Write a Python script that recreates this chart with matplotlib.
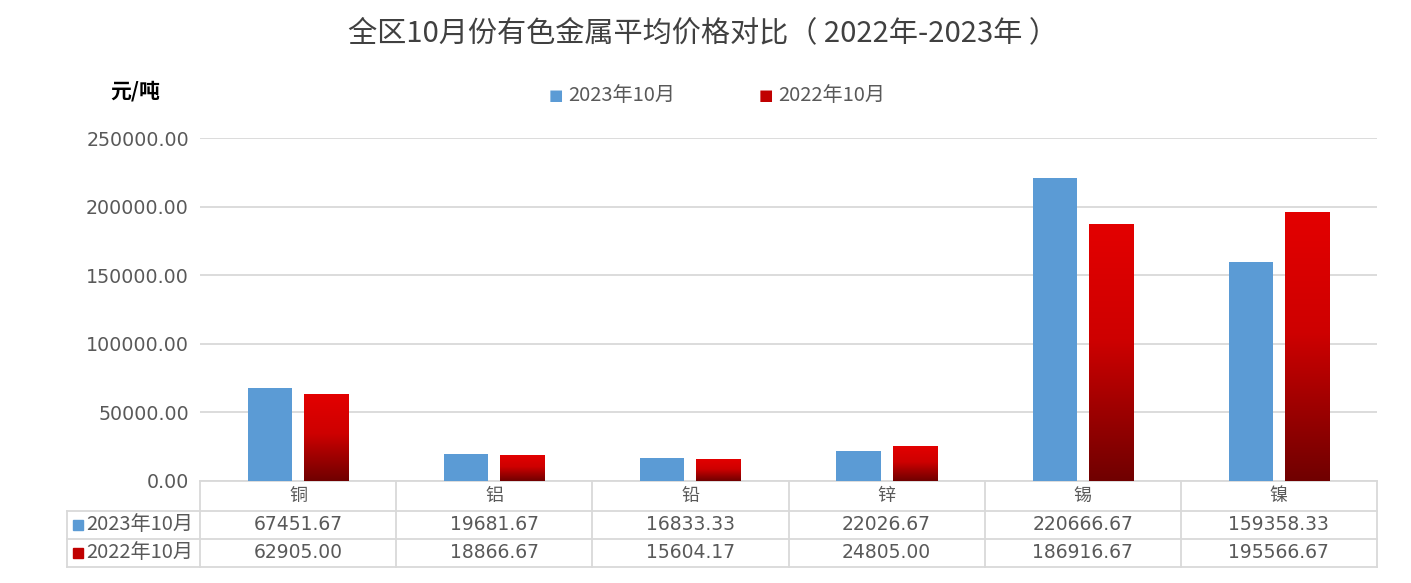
import numpy as np
import matplotlib.pyplot as plt
from matplotlib.colors import LinearSegmentedColormap
from matplotlib.transforms import blended_transform_factory

plt.rcParams['font.family'] = ['DejaVu Sans', 'Noto Sans CJK SC']

metals = ['铜', '铝', '铅', '锌', '锡', '镍']
series_names = ['2023年10月', '2022年10月']
price_2023 = [67451.67, 19681.67, 16833.33, 22026.67, 220666.67, 159358.33]
price_2022 = [62905.00, 18866.67, 15604.17, 24805.00, 186916.67, 195566.67]
yticks = [0, 50000, 100000, 150000, 200000, 250000]

blue = '#5B9BD5'
grid_c = '#D9D9D9'
text_c = '#595959'
red_cmap = LinearSegmentedColormap.from_list(
    'redgrad', [(0.0, '#700000'), (0.3, '#A20000'), (0.55, '#CE0000'), (1.0, '#E30000')])

W, H = 1411, 583
fig = plt.figure(figsize=(W / 100, H / 100), dpi=100)
ax_l, ax_r, ax_t, ax_b = 200, 1377, 138, 481
ax = fig.add_axes([ax_l / W, 1 - ax_b / H, (ax_r - ax_l) / W, (ax_b - ax_t) / H])

x = np.arange(len(metals))
bw = 0.225
off = 0.143
ax.bar(x - off, price_2023, bw, color=blue, zorder=3)
bars = ax.bar(x + off, price_2022, bw, color='none', zorder=3)
grad = np.linspace(0, 1, 256).reshape(-1, 1)
for b in bars:
    x0 = b.get_x()
    h = b.get_height()
    ax.imshow(grad, extent=[x0, x0 + b.get_width(), 0, h], origin='lower',
              aspect='auto', cmap=red_cmap, zorder=3)

ax.set_xlim(-0.5, len(metals) - 0.5)
ax.set_ylim(0, 250000)
ax.set_yticks(yticks)
ax.set_yticklabels([f'{v:.2f}' for v in yticks], fontsize=13.7, color=text_c)
ax.tick_params(axis='y', length=0, pad=8)
ax.set_xticks([])
ax.grid(axis='y', color=grid_c, linewidth=1.3, zorder=0)
for s in ax.spines.values():
    s.set_visible(False)

# data table under the axis
aw = ax_r - ax_l
ah = ax_b - ax_t
rows_y = [0, -30 / ah, -58 / ah, -86 / ah]
left_x = (67 - ax_l) / aw
trans = blended_transform_factory(ax.transData, ax.transAxes)
lk = dict(color=grid_c, linewidth=1.3, clip_on=False, zorder=1)
ax.plot([0, 1], [0, 0], transform=ax.transAxes, **lk)
for yy in rows_y[1:]:
    ax.plot([left_x, 1], [yy, yy], transform=ax.transAxes, **lk)
for i in range(len(metals) + 1):
    ax.plot([i - 0.5, i - 0.5], [0, rows_y[-1]], transform=trans, **lk)
ax.plot([left_x, left_x], [rows_y[1], rows_y[-1]], transform=ax.transAxes, **lk)

for i, m in enumerate(metals):
    ax.text(i, (rows_y[0] + rows_y[1]) / 2, m, transform=trans, ha='center', va='center',
            fontsize=13, color=text_c, family=['Noto Sans CJK SC'])
    ax.text(i, (rows_y[1] + rows_y[2]) / 2, f'{price_2023[i]:.2f}', transform=trans,
            ha='center', va='center', fontsize=13.5, color=text_c)
    ax.text(i, (rows_y[2] + rows_y[3]) / 2, f'{price_2022[i]:.2f}', transform=trans,
            ha='center', va='center', fontsize=13.5, color=text_c)

marker_cols = [blue, '#C00000']
for r, (name, mc) in enumerate(zip(series_names, marker_cols)):
    yc = (rows_y[r + 1] + rows_y[r + 2]) / 2
    ax.plot([(78 - ax_l) / aw], [yc], marker='s', markersize=7, color=mc,
            transform=ax.transAxes, clip_on=False)
    ax.text((86 - ax_l) / aw, yc, name, transform=ax.transAxes, ha='left', va='center',
            fontsize=14.5, color=text_c, family=['Noto Sans CJK SC', 'DejaVu Sans'])

# legend
leg_pos = [(556, 95), (766, 95)]
for (lx, ly), name, mc in zip(leg_pos, series_names, marker_cols):
    fig.text(lx / W, 1 - ly / H, '■', color=mc, fontsize=11, ha='center', va='center',
             family=['DejaVu Sans'])
    fig.text((lx + 12) / W, 1 - ly / H, name, color=text_c, fontsize=14.5, ha='left',
             va='center', family=['Noto Sans CJK SC', 'DejaVu Sans'])

fig.text(110 / W, 1 - 91 / H, '元/吨', fontsize=15, fontweight='bold', color='black',
         ha='left', va='center', family=['Noto Sans CJK SC'])

fig.text(703 / W, 1 - 33 / H, '全区10月份有色金属平均价格对比（ 2022年-2023年 ）',
         fontsize=21, color='#404040', ha='center', va='center',
         family=['Noto Sans CJK SC', 'DejaVu Sans'])

fig.savefig('out.png', dpi=100)
